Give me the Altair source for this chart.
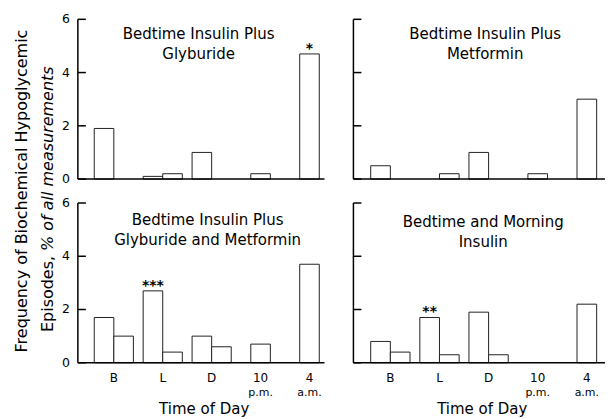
import altair as alt
import pandas as pd

# ---------------- data ----------------
slots = ["B pre", "B post", "L pre", "L post", "D pre", "D post", "10 p.m.", "4 a.m."]
slot_group = [0, 0, 1, 1, 2, 2, 3, 4]
slot_side = [-1, 1, -1, 1, -1, 1, 0, 0]
group_index = [0, 1, 2, 3, 4]
group_main = ["B", "L", "D", "10", "4"]
group_sub = ["", "", "", "p.m.", "a.m."]
y_ticks = [0, 2, 4, 6]
y_tick_labels = ["0", "2", "4", "6"]

vals_glyb = [1.9, 0.0, 0.1, 0.2, 1.0, 0.0, 0.2, 4.7]
vals_metf = [0.5, 0.0, 0.0, 0.2, 1.0, 0.0, 0.2, 3.0]
vals_both = [1.7, 1.0, 2.7, 0.4, 1.0, 0.6, 0.7, 3.7]
vals_morn = [0.8, 0.4, 1.7, 0.3, 1.9, 0.3, 0.0, 2.2]

title_glyb = "Bedtime Insulin Plus\nGlyburide"
title_metf = "Bedtime Insulin Plus\nMetformin"
title_both = "Bedtime Insulin Plus\nGlyburide and Metformin"
title_morn = "Bedtime and Morning\nInsulin"

stars_glyb = [("4 a.m.", "*")]
stars_metf = []
stars_both = [("L pre", "***")]
stars_morn = [("L pre", "**")]

ytitle_1 = "Frequency of Biochemical Hypoglycemic"
ytitle_2a = "Episodes,"
ytitle_2b = "% of all measurements"
xtitle = "Time of Day"

# ---------------- style ----------------
FONT = "DejaVu Sans"
BW = 0.4  # bar width in group units
H = 160


def bar_table(vals):
    rows = []
    for name, g, side, v in zip(slots, slot_group, slot_side, vals):
        c = g + side * BW / 2
        rows.append({"slot": name, "x0": c - BW / 2, "x1": c + BW / 2,
                     "xc": c, "v": v, "v0": 0.0})
    return pd.DataFrame(rows)


def one(text):
    return pd.DataFrame({"t": [text]})


def panel(vals, title, stars, width, domain, left, bottom, title_x, title_y, ytitle=False):
    df = bar_table(vals)
    xscale = alt.Scale(domain=domain, nice=False, zero=False)
    yscale = alt.Scale(domain=[0, 6], nice=False, zero=True)

    bars = alt.Chart(df).transform_filter("datum.v > 0").mark_rect(
        fill="white", stroke="#222", strokeWidth=1
    ).encode(
        x=alt.X("x0:Q", scale=xscale, axis=None),
        x2="x1:Q",
        y=alt.Y("v:Q", scale=yscale, axis=None),
        y2="v0:Q",
    )
    yline = alt.Chart(one("y")).mark_rule(color="black", strokeWidth=1.5).encode(
        x=alt.value(0), y=alt.value(0), y2=alt.value(H))
    xline = alt.Chart(one("x")).mark_rule(color="black", strokeWidth=1.5).encode(
        x=alt.value(0), x2=alt.value(width), y=alt.value(H))
    tdf = pd.DataFrame({"t": y_ticks, "lab": y_tick_labels})
    ticks = alt.Chart(tdf).mark_rule(color="black", strokeWidth=1.5).encode(
        y=alt.Y("t:Q", scale=yscale, axis=None), x=alt.value(0), x2=alt.value(8))

    ttl = alt.Chart(one(title)).mark_text(
        font=FONT, fontSize=15, lineBreak="\n", lineHeight=20,
        baseline="alphabetic", align="center", color="black"
    ).encode(text="t:N", x=alt.value(title_x), y=alt.value(title_y))

    layers = [bars, yline, xline, ticks, ttl]
    if left:
        layers.append(alt.Chart(tdf).mark_text(
            font=FONT, fontSize=12.5, align="right", baseline="middle", color="black"
        ).encode(y=alt.Y("t:Q", scale=yscale, axis=None), x=alt.value(-8), text="lab:N"))
    if bottom:
        gdf = pd.DataFrame({"g": group_index, "m": group_main, "s": group_sub})
        layers.append(alt.Chart(gdf).mark_text(
            font=FONT, fontSize=12, align="center", baseline="alphabetic", color="black"
        ).encode(x=alt.X("g:Q", scale=xscale, axis=None), y=alt.value(H + 19), text="m:N"))
        layers.append(alt.Chart(gdf).transform_filter("datum.s != ''").mark_text(
            font=FONT, fontSize=11, align="center", baseline="alphabetic", color="black"
        ).encode(x=alt.X("g:Q", scale=xscale, axis=None), y=alt.value(H + 33), text="s:N"))
        layers.append(alt.Chart(one(xtitle)).mark_text(
            font=FONT, fontSize=15, align="center", baseline="alphabetic", color="black"
        ).encode(x=alt.value(width / 2 + 3), y=alt.value(H + 51), text="t:N"))
    if stars:
        sdf = pd.DataFrame([
            {"xc": df.loc[df.slot == s, "xc"].iloc[0],
             "v": df.loc[df.slot == s, "v"].iloc[0], "s": t}
            for s, t in stars
        ])
        layers.append(alt.Chart(sdf).mark_text(
            font=FONT, fontSize=14, fontWeight="bold", baseline="alphabetic",
            align="center", dy=-1, color="black"
        ).encode(x=alt.X("xc:Q", scale=xscale, axis=None),
                 y=alt.Y("v:Q", scale=yscale, axis=None), text="s:N"))
    if ytitle:
        layers.append(alt.Chart(one(ytitle_1)).mark_text(
            font=FONT, fontSize=16, angle=270, align="center", baseline="middle",
            color="black").encode(text="t:N", x=alt.value(-56), y=alt.value(172)))
        layers.append(alt.Chart(one(ytitle_2a)).mark_text(
            font=FONT, fontSize=16, angle=270, align="right", baseline="middle",
            color="black").encode(text="t:N", x=alt.value(-30), y=alt.value(237)))
        layers.append(alt.Chart(one(ytitle_2b)).mark_text(
            font=FONT, fontSize=16, angle=270, align="left", baseline="middle",
            fontStyle="italic", color="black").encode(
            text="t:N", x=alt.value(-30), y=alt.value(232)))
    return alt.layer(*layers).properties(width=width, height=H)


LDOM = [-36 / 49, (247 - 36) / 49]
RDOM = [-37 / 49.2, (252 - 37) / 49.2]

tl = panel(vals_glyb, title_glyb, stars_glyb, 247, LDOM, True, False, 121, 20, ytitle=True)
tr = panel(vals_metf, title_metf, stars_metf, 252, RDOM, False, False, 132, 20)
bl = panel(vals_both, title_both, stars_both, 247, LDOM, True, True, 130, 22)
br = panel(vals_morn, title_morn, stars_morn, 252, RDOM, False, True, 130, 24)

chart = alt.concat(
    tl, tr, bl, br, columns=2,
    spacing=alt.RowColnumber(row=24, column=29),
    bounds="flush",
).properties(
    padding={"left": 13, "top": 13, "right": 2, "bottom": 2},
    background="white",
).configure_view(stroke=None)

chart.save("out.html", embed_options={"renderer": "svg", "actions": False})
